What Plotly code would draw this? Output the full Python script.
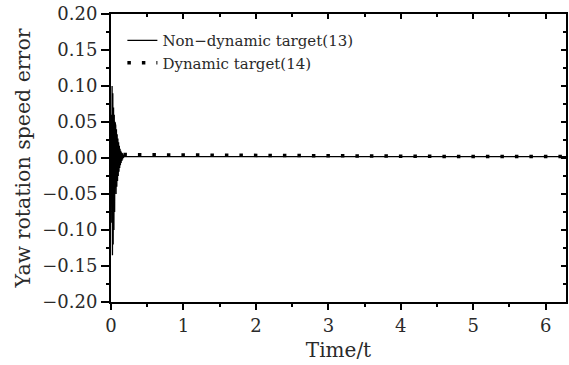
import plotly.graph_objects as go

# Non-dynamic target (13): fast decaying oscillation, then settles
t_nd = [0.0, 0.005, 0.01, 0.015, 0.02, 0.025, 0.03, 0.035, 0.04, 0.045, 0.05,
        0.055, 0.06, 0.065, 0.07, 0.075, 0.08, 0.085, 0.09, 0.095, 0.10,
        0.105, 0.11, 0.115, 0.12, 0.125, 0.13, 0.135, 0.14, 0.145, 0.15,
        0.155, 0.16, 0.165, 0.17, 0.175, 0.18, 0.19, 0.20, 1.0, 2.0, 3.0,
        4.0, 5.0, 6.28]
e_nd = [0.0, 0.06, -0.09, 0.10, -0.135, 0.09, -0.12, 0.07, -0.10, 0.06, -0.075,
        0.05, -0.06, 0.045, -0.05, 0.04, -0.04, 0.033, -0.032, 0.027, -0.025,
        0.022, -0.019, 0.017, -0.014, 0.013, -0.010, 0.010, -0.007, 0.008, -0.004,
        0.007, -0.002, 0.005, 0.0, 0.004, 0.001, 0.003, 0.002, 0.002, 0.002, 0.002,
        0.002, 0.002, 0.002]

# Dynamic target (14)
t_d = [0.0, 0.05, 0.1, 0.3, 1.0, 1.5, 2.0, 2.5, 3.0, 4.0, 5.0, 6.28]
e_d = [0.0, 0.006, 0.005, 0.0045, 0.0042, 0.0038, 0.0033, 0.0028, 0.0024, 0.0021, 0.002, 0.002]

x_ticks = [0, 1, 2, 3, 4, 5, 6]
y_ticks = [-0.20, -0.15, -0.10, -0.05, 0.00, 0.05, 0.10, 0.15, 0.20]
x_range = [0, 6.28]
y_range = [-0.20, 0.20]

FONT = "DejaVu Serif"
TXT = "#2a2a2a"

fig = go.Figure()
fig.add_trace(go.Scatter(x=t_nd, y=e_nd, mode="lines", name="Non\u2212dynamic target(13)",
                         line=dict(color="black", width=1.3)))
fig.add_trace(go.Scatter(x=t_d, y=e_d, mode="lines", name="Dynamic target(14)",
                         line=dict(color="black", width=3.5, dash="3.5px,11px")))
# invisible trace for mirrored axes
fig.add_trace(go.Scatter(x=x_range, y=y_range, xaxis="x2", yaxis="y2", mode="lines",
                         line=dict(width=0), showlegend=False, hoverinfo="skip"))

axis_common = dict(showgrid=False, zeroline=False, showline=True, linecolor="black",
                   linewidth=2, tickcolor="black", tickwidth=2, automargin=False)

fig.update_layout(
    width=569, height=365,
    margin=dict(l=111, r=3, t=14, b=63),
    paper_bgcolor="white", plot_bgcolor="white",
    font=dict(family=FONT, size=18, color=TXT),
    xaxis=dict(range=x_range, tickvals=x_ticks, ticks="outside", ticklen=6,
               minor=dict(dtick=0.5, tick0=0, ticks="outside", ticklen=3, tickwidth=2, tickcolor="black"),
               title=dict(text="Time/t", font=dict(size=20), standoff=8),
               tickfont=dict(size=18), **axis_common),
    yaxis=dict(range=y_range, tickvals=y_ticks, tickformat=".2f", ticks="outside", ticklen=8,
               minor=dict(dtick=0.025, tick0=0, ticks="outside", ticklen=3, tickwidth=2, tickcolor="black"),
               title=dict(text="Yaw rotation speed error", font=dict(size=20.5), standoff=6),
               tickfont=dict(size=18), **axis_common),
    xaxis2=dict(range=x_range, overlaying="x", side="top", tickvals=x_ticks, ticks="inside", ticklen=5,
                showticklabels=False,
                minor=dict(dtick=0.5, tick0=0, ticks="inside", ticklen=3, tickwidth=2, tickcolor="black"),
                **axis_common),
    yaxis2=dict(range=y_range, overlaying="y", side="right", tickvals=y_ticks, ticks="inside", ticklen=5,
                showticklabels=False,
                minor=dict(dtick=0.025, tick0=0, ticks="inside", ticklen=3, tickwidth=2, tickcolor="black"),
                **axis_common),
    legend=dict(x=0.025, y=0.965, xanchor="left", yanchor="top", bgcolor="rgba(0,0,0,0)",
                font=dict(family=FONT, size=15, color=TXT), itemwidth=30, tracegroupgap=0),
    showlegend=True,
)

fig.write_html("out.html", config={"displayModeBar": False})
with open("out.html", encoding="utf-8") as f:
    html = f.read()
html = html.replace("<body>", '<body style="margin:0;padding:0;">', 1)
with open("out.html", "w", encoding="utf-8") as f:
    f.write(html)
